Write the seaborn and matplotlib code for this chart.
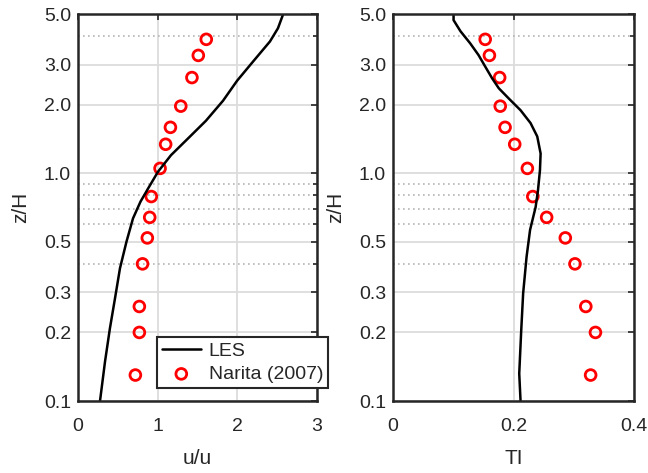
import matplotlib
matplotlib.use('Agg')
import matplotlib.pyplot as plt
import seaborn as sns
import pandas as pd
from matplotlib.ticker import FixedLocator, FixedFormatter, NullFormatter

# measured (Narita 2007) heights and values
z_exp = [3.87, 3.29, 2.63, 1.97, 1.59, 1.34, 1.05, 0.79, 0.64, 0.52, 0.40, 0.26, 0.20, 0.13]
u_exp = [1.61, 1.51, 1.43, 1.29, 1.16, 1.10, 1.03, 0.92, 0.90, 0.87, 0.81, 0.77, 0.77, 0.72]
ti_exp = [0.153, 0.160, 0.177, 0.178, 0.186, 0.202, 0.223, 0.232, 0.255, 0.286, 0.302, 0.320, 0.336, 0.328]

# LES profiles
z_les_u = [0.10, 0.149, 0.208, 0.282, 0.383, 0.50, 0.633, 0.75, 0.855, 1.015, 1.20, 1.42,
           1.70, 2.08, 2.55, 3.1, 3.79, 4.33, 5.0]
u_les = [0.276, 0.339, 0.40, 0.464, 0.527, 0.608, 0.69, 0.784, 0.878, 1.004, 1.167, 1.38,
         1.606, 1.82, 1.998, 2.20, 2.41, 2.51, 2.576]

z_les_ti = [0.10, 0.132, 0.204, 0.297, 0.43, 0.564, 0.71, 0.84, 1.03, 1.22, 1.45, 1.66, 1.89,
            2.13, 2.36, 2.61, 2.94, 3.30, 3.72, 4.20, 4.70, 5.0]
ti_les = [0.2117, 0.2095, 0.2128, 0.216, 0.2217, 0.2275, 0.2367, 0.2406, 0.2439, 0.245, 0.2394,
          0.2283, 0.2117, 0.192, 0.1756, 0.1645, 0.153, 0.142, 0.128, 0.112, 0.1005, 0.1005]

y_major = [0.1, 0.2, 0.3, 0.5, 1.0, 2.0, 3.0, 5.0]
y_labels = ['0.1', '0.2', '0.3', '0.5', '1.0', '2.0', '3.0', '5.0']
y_minor = [0.4, 0.6, 0.7, 0.8, 0.9, 4.0]

sns.set_style('white')
plt.rcParams['font.family'] = ['Liberation Sans', 'DejaVu Sans']
plt.rcParams['xtick.direction'] = 'in'
plt.rcParams['ytick.direction'] = 'in'

fig = plt.figure(figsize=(6.48, 4.73), dpi=100)
ax1 = fig.add_axes([0.1204, 0.1522, 0.3688, 0.8182])
ax2 = fig.add_axes([0.6065, 0.1522, 0.3719, 0.8182])

les_u = pd.DataFrame({'x': u_les, 'z': z_les_u})
les_ti = pd.DataFrame({'x': ti_les, 'z': z_les_ti})
exp_u = pd.DataFrame({'x': u_exp, 'z': z_exp})
exp_ti = pd.DataFrame({'x': ti_exp, 'z': z_exp})


def style_axis(ax, xticks, xlabels, xlim, xlabel):
    ax.set_yscale('log')
    ax.set_ylim(0.1, 5.0)
    ax.set_xlim(*xlim)
    ax.yaxis.set_major_locator(FixedLocator(y_major))
    ax.yaxis.set_major_formatter(FixedFormatter(y_labels))
    ax.yaxis.set_minor_locator(FixedLocator(y_minor))
    ax.yaxis.set_minor_formatter(NullFormatter())
    ax.set_xticks(xticks)
    ax.set_xticklabels(xlabels)
    ax.grid(True, which='major', color='#dcdcdc', lw=1.3, ls='-')
    ax.grid(True, which='minor', axis='y', color='#b4b4b4', lw=1.2, ls=(0, (1, 2)))
    ax.set_axisbelow(True)
    ax.tick_params(which='both', top=True, right=True, labelsize=14, colors='#262626',
                   length=4, width=1.2, pad=5)
    ax.tick_params(axis='x', pad=12)
    ax.tick_params(which='minor', length=3)
    for s in ax.spines.values():
        s.set_color('#262626')
        s.set_linewidth(1.8)
        s.set_visible(True)
    ax.set_xlabel(xlabel, fontsize=15, color='#262626', labelpad=10)
    ax.set_ylabel('z/H', fontsize=15, color='#262626', labelpad=10)


sns.lineplot(data=les_u, x='x', y='z', sort=False, orient='y', ax=ax1, color='black', lw=1.8,
             label='LES')
sns.scatterplot(data=exp_u, x='x', y='z', ax=ax1, marker='o', s=60, facecolor='none',
                edgecolor='red', linewidth=2, label='Narita (2007)')
style_axis(ax1, [0, 1, 2, 3], ['0', '1', '2', '3'], (0, 3), 'u/u')

sns.lineplot(data=les_ti, x='x', y='z', sort=False, orient='y', ax=ax2, color='black', lw=1.8,
             legend=False)
sns.scatterplot(data=exp_ti, x='x', y='z', ax=ax2, marker='o', s=60, facecolor='none',
                edgecolor='red', linewidth=2, legend=False)
style_axis(ax2, [0, 0.2, 0.4], ['0', '0.2', '0.4'], (0, 0.4), 'TI')

leg = ax1.legend(loc='lower right', bbox_to_anchor=(0.506, 0.180), bbox_transform=fig.transFigure,
                 borderaxespad=0, fontsize=14, frameon=True, fancybox=False, framealpha=1,
                 handlelength=2.0, handletextpad=0.4, borderpad=0.25, labelspacing=0.3)
leg.get_frame().set_edgecolor('#262626')
leg.get_frame().set_linewidth(1.5)
leg.set_zorder(10)

fig.savefig('out.png', dpi=100)
